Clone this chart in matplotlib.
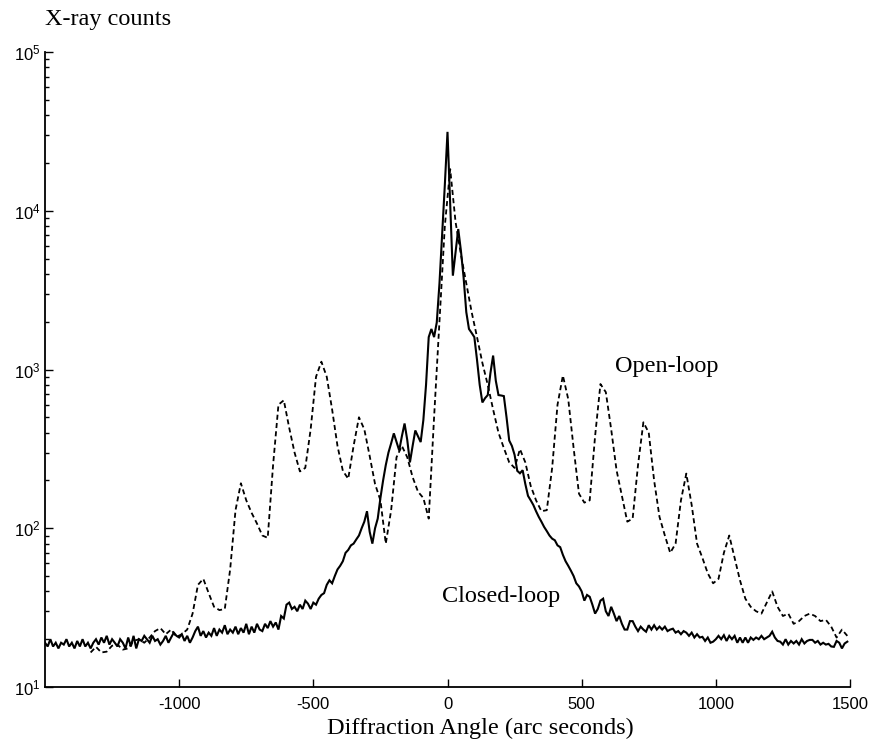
import matplotlib
matplotlib.use('Agg')
import matplotlib.pyplot as plt
from matplotlib.ticker import LogLocator, FixedLocator
import numpy as np

# Ángulo de difracción (segundos de arco), paso de 10 para lazo cerrado
closed_angle = np.arange(-1500, 1500, 10)
closed_counts = [
    19, 18, 20, 18, 19, 17.5, 19, 18.5, 20, 18,
    19, 17.5, 19.5, 18, 20, 18, 19, 17.5, 19, 20,
    18.5, 20.5, 19, 21, 18.5, 20, 19, 18, 20, 19,
    17.5, 20.5, 18, 21, 17.5, 20, 19.5, 21, 20, 19,
    21, 19.5, 20, 18.5, 19.5, 21, 19, 20.5, 22, 21,
    20.5, 21.5, 19.5, 21, 19, 20.5, 22.5, 24, 21, 22.5,
    20.5, 22, 21, 23.5, 21, 23, 22, 24.5, 21.5, 23,
    22, 24, 21.5, 23.5, 22, 25, 21.5, 24, 22, 25,
    23, 22.5, 25, 23.5, 26, 24, 25.5, 23, 28, 27,
    33, 34, 31, 32, 30, 33, 31, 35, 33.5, 31,
    34, 33, 36, 38, 39, 44, 47, 45, 50, 55,
    58, 62, 70, 73, 78, 80, 85, 90, 100, 110,
    128, 95, 80, 100, 115, 155, 200, 250, 300, 343,
    396, 350, 309, 380, 457, 360, 260, 330, 413, 380,
    349, 480, 800, 1600, 1800, 1600, 1980, 3470, 7100, 14500,
    31400, 11000, 3900, 5500, 7670, 5600, 3800, 2300, 1800, 1700,
    1600, 1150, 800, 620, 660, 690, 950, 1224, 850, 690,
    686, 680, 500, 357, 330, 290, 230, 222, 232, 190,
    160, 150, 140, 128, 118, 110, 102, 96, 90, 86,
    84, 78, 76, 68, 62, 58, 54, 50, 45, 43,
    40, 35, 38, 37, 33, 29, 31, 35, 36, 30,
    28, 32, 29, 26, 28, 25, 23, 23, 26, 26,
    24, 22.5, 24, 23, 22.3, 24.5, 23, 24.5, 23, 24,
    23, 24, 22.5, 23, 23.3, 22, 22.5, 21.5, 22.5, 22,
    21, 22, 20.5, 21.5, 20.5, 20.7, 19.5, 20.5, 19, 19.3,
    20, 21, 20, 21.2, 19.5, 21, 20, 21, 19, 20.5,
    19, 20.5, 19, 20.5, 19.8, 20.5, 20, 21, 20, 20.5,
    21, 22.3, 20.5, 19.5, 19.3, 18.5, 20, 18.5, 19.5, 18.8,
    19.5, 18.5, 20, 18.8, 19.5, 19.8, 19.8, 19, 19.5, 18.5,
    19, 18.5, 18.7, 18, 17.9, 19.5, 19, 17.5, 18.8, 19.3,
]

# Lazo abierto, paso de 20
open_angle = np.arange(-1330, 1491, 20)
open_counts = [
    16.5, 17.9, 16.5, 16.7, 18.2, 18.5, 17.2, 17.5, 19.5, 20,
    19, 20.5, 22.5, 23.5, 21.5, 23, 20.7, 21.5, 23, 29,
    44, 48, 39, 32, 30.5, 31, 55, 130, 192, 150,
    125, 107, 90, 87, 250, 600, 640, 430, 300, 228,
    240, 420, 900, 1120, 900, 560, 330, 230, 205, 330,
    500, 420, 285, 190, 150, 80, 130, 280, 330, 280,
    210, 170, 155, 115, 500, 2000, 8000, 18300, 8500, 5300,
    3500, 2300, 1600, 1100, 800, 560, 400, 320, 260, 240,
    315, 260, 185, 150, 128, 130, 240, 600, 916, 650,
    320, 165, 145, 150, 380, 810, 720, 420, 232, 160,
    110, 115, 250, 465, 400, 200, 118, 90, 70, 80,
    150, 221, 140, 80, 65, 52, 45, 48, 70, 90,
    65, 47, 36, 32, 30, 29, 34, 40, 32, 28,
    29, 25, 26, 28, 29, 28, 26, 26.5, 24, 20.5,
    23, 21,
]

xticks = [-1000, -500, 0, 500, 1000, 1500]

plt.rcParams['font.family'] = 'Liberation Sans'
plt.rcParams['axes.unicode_minus'] = False
serif = 'Liberation Serif'

fig = plt.figure(figsize=(8.75, 7.44), dpi=100)
ax = fig.add_axes([45 / 875, 1 - 687 / 744, 805 / 875, 635 / 744])

ax.plot(closed_angle, closed_counts, color='black', lw=1.5, solid_joinstyle='miter')
ax.plot(open_angle, open_counts, color='black', lw=1.3, linestyle=(0, (2.8, 1.8)))

ax.set_yscale('log')
ax.set_xlim(-1500, 1500)
ax.set_ylim(10, 1e5)
ax.xaxis.set_major_locator(FixedLocator(xticks))
ax.yaxis.set_major_locator(LogLocator(base=10, numticks=10))
ax.yaxis.set_minor_locator(LogLocator(base=10, subs=np.arange(2, 10), numticks=20))

for side in ['top', 'right']:
    ax.spines[side].set_visible(False)
for side in ['left', 'bottom']:
    ax.spines[side].set_linewidth(1.3)

ax.tick_params(axis='both', which='major', direction='in', length=6, width=1,
               labelsize=12, pad=7)
ax.tick_params(axis='y', which='major', pad=3)
ax.tick_params(axis='y', which='minor', direction='in', length=3, width=1)
ax.tick_params(axis='x', which='minor', bottom=False)

ax.text(624, 961, 'Open-loop', family=serif, fontsize=17.5, va='baseline', ha='left')
ax.text(-22, 34.3, 'Closed-loop', family=serif, fontsize=17.5, va='baseline', ha='left')

fig.text(45 / 875, 1 - 25 / 744, 'X-ray counts', family=serif, fontsize=17.5,
         va='baseline', ha='left')
fig.text(327 / 875, 1 - 734 / 744, 'Diffraction Angle (arc seconds)', family=serif,
         fontsize=17.5, va='baseline', ha='left')

fig.savefig('out.png', dpi=100)
